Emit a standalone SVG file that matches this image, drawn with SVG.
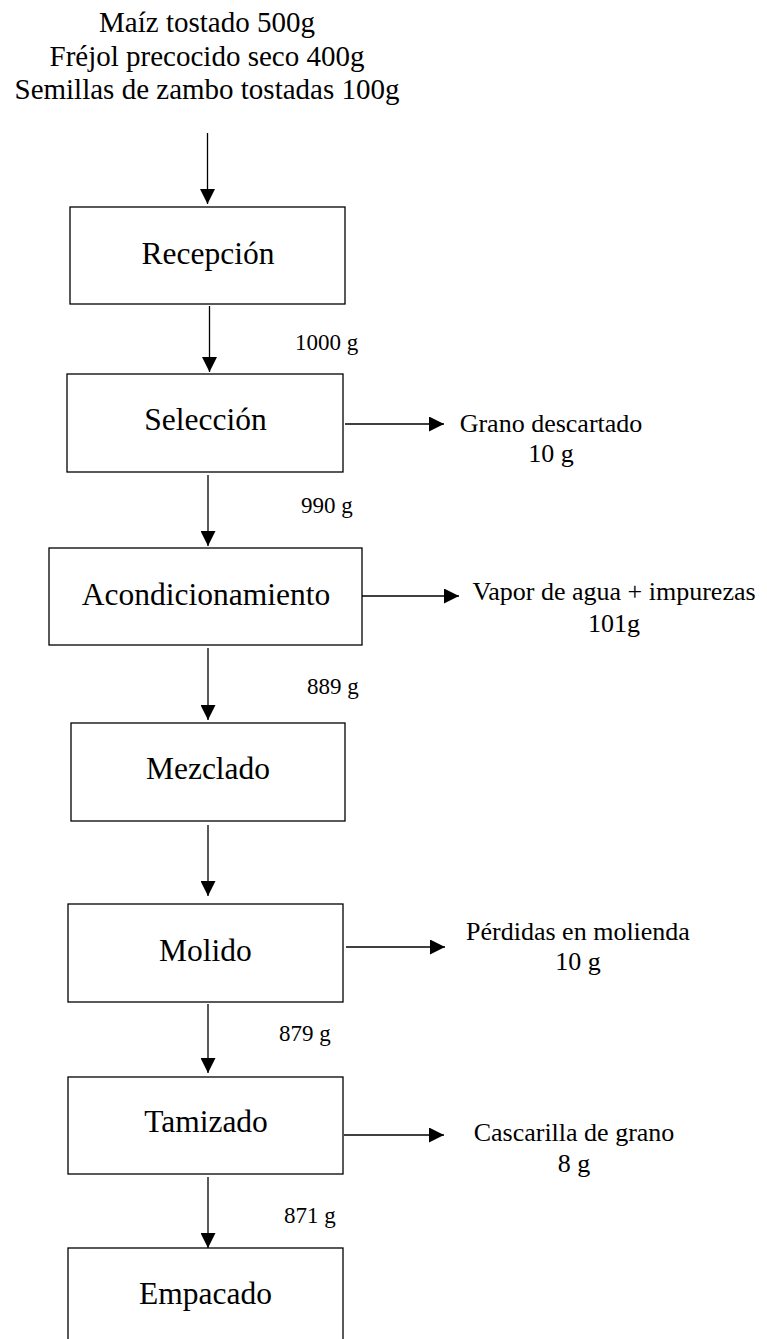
<svg xmlns="http://www.w3.org/2000/svg" width="767" height="1339" viewBox="0 0 767 1339">
  <style>
    .box { fill: #ffffff; stroke: #000000; stroke-width: 1.3; }
    text { font-family: 'Liberation Serif', 'Times New Roman', Tinos, 'DejaVu Serif', serif; fill: #000000; }
    .step { font-size: 31.5px; text-anchor: middle; }
    .head { font-size: 29px; text-anchor: middle; }
    .side { font-size: 26px; text-anchor: middle; }
    .mass { font-size: 23px; }
    .flow { stroke: #000000; stroke-width: 1.3; fill: none; marker-end: url(#arrow); }
  </style>
  <defs>
    <marker id="arrow" markerUnits="userSpaceOnUse" markerWidth="15" markerHeight="15" refX="15" refY="7.5" orient="auto">
      <path d="M0,0 L15,7.5 L0,15 z" fill="#000000"/>
    </marker>
  </defs>
  <rect width="767" height="1339" fill="#ffffff"/>

  <!-- raw materials -->
  <g id="inputs" font-family="Liberation Serif, serif">
    <text class="head" x="207" y="32">Maíz tostado 500g</text>
    <text class="head" x="207" y="65.5">Fréjol precocido seco 400g</text>
    <text class="head" x="207" y="99">Semillas de zambo tostadas 100g</text>
  </g>

  <!-- process steps -->
  <g id="recepcion">
    <rect class="box" x="70" y="207" width="275" height="97"/>
    <text class="step" x="208" y="264">Recepción</text>
  </g>
  <g id="seleccion">
    <rect class="box" x="67" y="374" width="276" height="98"/>
    <text class="step" x="205.5" y="430">Selección</text>
  </g>
  <g id="acondicionamiento">
    <rect class="box" x="49" y="548" width="313" height="97"/>
    <text class="step" x="206" y="605">Acondicionamiento</text>
  </g>
  <g id="mezclado">
    <rect class="box" x="71" y="723" width="274" height="98"/>
    <text class="step" x="208" y="779">Mezclado</text>
  </g>
  <g id="molido">
    <rect class="box" x="68" y="904" width="275" height="98"/>
    <text class="step" x="205.5" y="961">Molido</text>
  </g>
  <g id="tamizado">
    <rect class="box" x="68" y="1077" width="275" height="97"/>
    <text class="step" x="206" y="1132">Tamizado</text>
  </g>
  <g id="empacado">
    <rect class="box" x="68" y="1248" width="275" height="110"/>
    <text class="step" x="205.5" y="1304">Empacado</text>
  </g>

  <!-- side outputs -->
  <g id="grano-descartado">
    <text class="side" x="551" y="432">Grano descartado</text>
    <text class="side" x="551" y="462">10 g</text>
  </g>
  <g id="vapor">
    <text class="side" x="614" y="600">Vapor de agua + impurezas</text>
    <text class="side" x="614" y="632">101g</text>
  </g>
  <g id="perdidas">
    <text class="side" x="578" y="940">Pérdidas en molienda</text>
    <text class="side" x="578" y="970">10 g</text>
  </g>
  <g id="cascarilla">
    <text class="side" x="574" y="1141">Cascarilla de grano</text>
    <text class="side" x="574" y="1172">8 g</text>
  </g>

  <!-- connectors -->
  <g id="connectors">
    <line class="flow" x1="207.5" y1="133" x2="207.5" y2="204"/>
    <line class="flow" x1="209.5" y1="306" x2="209.5" y2="372"/>
    <line class="flow" x1="208" y1="475" x2="208" y2="546"/>
    <line class="flow" x1="208" y1="648" x2="208" y2="720"/>
    <line class="flow" x1="208" y1="825" x2="208" y2="896"/>
    <line class="flow" x1="208" y1="1004" x2="208" y2="1073"/>
    <line class="flow" x1="208" y1="1177" x2="208" y2="1248"/>

    <line class="flow" x1="345" y1="424" x2="444" y2="424"/>
    <line class="flow" x1="362" y1="596" x2="459" y2="596"/>
    <line class="flow" x1="346" y1="947" x2="445" y2="947"/>
    <line class="flow" x1="344" y1="1135" x2="444" y2="1135"/>
  </g>

  <!-- stream masses -->
  <g id="masses">
    <text class="mass" x="295" y="350">1000 g</text>
    <text class="mass" x="301" y="513">990 g</text>
    <text class="mass" x="307" y="694">889 g</text>
    <text class="mass" x="279" y="1041">879 g</text>
    <text class="mass" x="284" y="1223">871 g</text>
  </g>
</svg>
